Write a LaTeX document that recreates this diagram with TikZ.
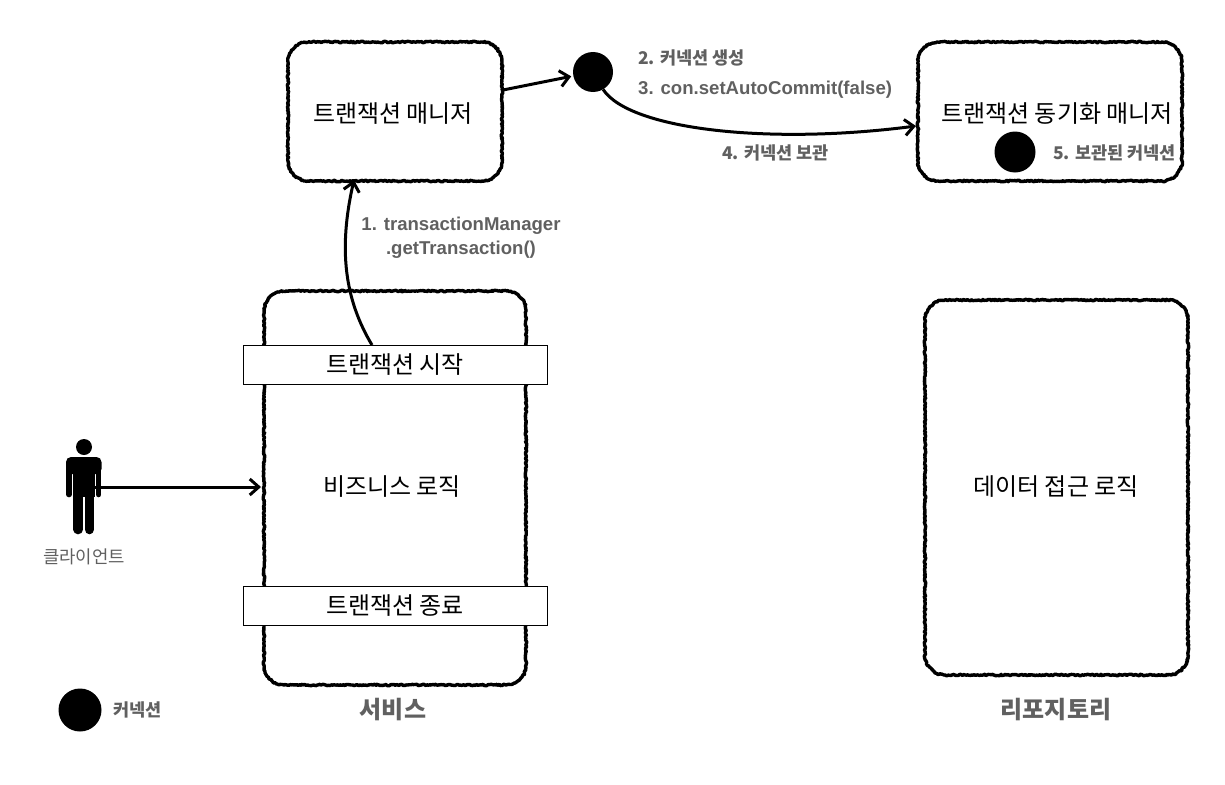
\documentclass[tikz,border=0pt]{standalone}
\usepackage{fontspec}
\setmainfont{Noto Sans CJK KR}
\newfontfamily\lat{Liberation Sans}
\usetikzlibrary{decorations.pathmorphing,arrows.meta,calc}
\definecolor{lbl}{RGB}{96,96,96}
\pgfmathsetseed{7}
\newcommand{\latlab}{\fontsize{18.6}{22}\bfseries\lat\selectfont}
\tikzset{
  x=1pt,y=-1pt,
  sketchbox/.style={draw=black,fill=white,line width=3.4pt,line join=round,
     decorate,decoration={random steps,segment length=1.3pt,amplitude=.75pt}},
  bar/.style={draw=black,fill=white,line width=.8pt,minimum width=304pt,minimum height=39pt,inner sep=0pt,font=\fontsize{24}{27}\selectfont},
  main/.style={font=\fontsize{24}{27}\selectfont,inner sep=0pt},
  lab/.style={text=lbl,font=\fontsize{17.5}{24}\bfseries\selectfont,inner sep=0pt,align=center},
  big/.style={text=lbl,font=\fontsize{24}{27}\bfseries\selectfont,inner sep=0pt},
  conn/.style={fill=black,circle,inner sep=0pt},
  arr/.style={draw=black,line width=3pt,-{Straight Barb[length=9pt,width=16pt,line width=3pt]}},
}
\newcommand{\rbox}[4]{%
  \pgfmathsetmacro{\xa}{#1+20}\pgfmathsetmacro{\xb}{#3-20}
  \pgfmathsetmacro{\ya}{#2+20}\pgfmathsetmacro{\yb}{#4-20}
  \pgfmathsetmacro{\xc}{#1+9}\pgfmathsetmacro{\xd}{#3-9}
  \pgfmathsetmacro{\yc}{#2+9}\pgfmathsetmacro{\yd}{#4-9}
  \draw[sketchbox] (\xa,#2) -- (\xb,#2) .. controls (\xd,#2) and (#3,\yc) .. (#3,\ya)
    -- (#3,\yb) .. controls (#3,\yd) and (\xd,#4) .. (\xb,#4)
    -- (\xa,#4) .. controls (\xc,#4) and (#1,\yd) .. (#1,\yb)
    -- (#1,\ya) .. controls (#1,\yc) and (\xc,#2) .. (\xa,#2) -- cycle;
}
\begin{document}
\begin{tikzpicture}
\useasboundingbox (0,0) rectangle (1225,784);
% boxes
\rbox{288}{42}{502}{181}
\rbox{918}{42}{1182}{181}
\rbox{264}{291}{526}{685}
\rbox{925}{300}{1188}{675}
\coordinate (tmL) at (503,90);
\coordinate (tmB) at (354,180);
\coordinate (syncL) at (916,126);
\coordinate (svcL) at (261,487);
% labels
\node[main] (tm) at (393,114) {트랜잭션 매니저};
\node[main] (sync) at (1057,114) {트랜잭션 동기화 매니저};
\node[main] (biz) at (392,487) {비즈니스 로직};
\node[main] (dal) at (1056,487) {데이터 접근 로직};
% bars
\node[bar] (start) at (395,364.5) {트랜잭션 시작};
\node[bar] (end) at (395,606) {트랜잭션 종료};
% dots
\node[conn,minimum size=40pt] (c1) at (593,72) {};
\node[conn,minimum size=41pt] (c2) at (1015,152) {};
\node[conn,minimum size=43pt] (c3) at (80,710) {};
% person
\fill[black] (84,447) circle (8pt);
\fill[black,rounded corners=5pt] (66,474) rectangle (101.5,457);
\fill[black] (73,462) rectangle (94.5,497);
\draw[black,line width=5.6pt,line cap=round] (68.9,465) -- (68.9,494.5);
\draw[black,line width=5.6pt,line cap=round] (98.6,465) -- (98.6,494.5);
\draw[black,line width=9.6pt,line cap=round] (78.2,490) -- (78.2,529.5);
\draw[black,line width=9.6pt,line cap=round] (89.3,490) -- (89.3,529.5);
\coordinate (person) at (94,487);
\node[inner sep=0pt,text=lbl,font=\fontsize{17.8}{20}\selectfont] (client) at (84,557) {클라이언트};
% connectors
\draw[arr] (person) -- (svcL);
\draw[arr,shorten >=2pt] (tmL) -- (c1);
\coordinate (st) at (372,345);
\draw[arr] (st) .. controls (345,300) and (338,250) .. (tmB);
\draw[arr] (c1.-60) .. controls (630,130) and (770,145) .. (syncL);
% grey labels
\node[lab] (l1) at (461,238) {{\latlab 1. transactionManager}\\{\latlab .getTransaction()}};
\node[lab,anchor=west] (l2) at (638,57.5) {2. 커넥션 생성};
\node[lab,anchor=west] (l3) at (638,89.5) {{\latlab 3. con.setAutoCommit(false)}};
\node[lab,anchor=west] (l4) at (722,152.5) {4. 커넥션 보관};
\node[lab,anchor=west] (l5) at (1053,152.5) {5. 보관된 커넥션};
\node[lab,anchor=west] (l6) at (113,709.5) {커넥션};
\node[big] (svc) at (393,709.5) {서비스};
\node[big] (repo) at (1056,709.5) {리포지토리};
\end{tikzpicture}
\end{document}
